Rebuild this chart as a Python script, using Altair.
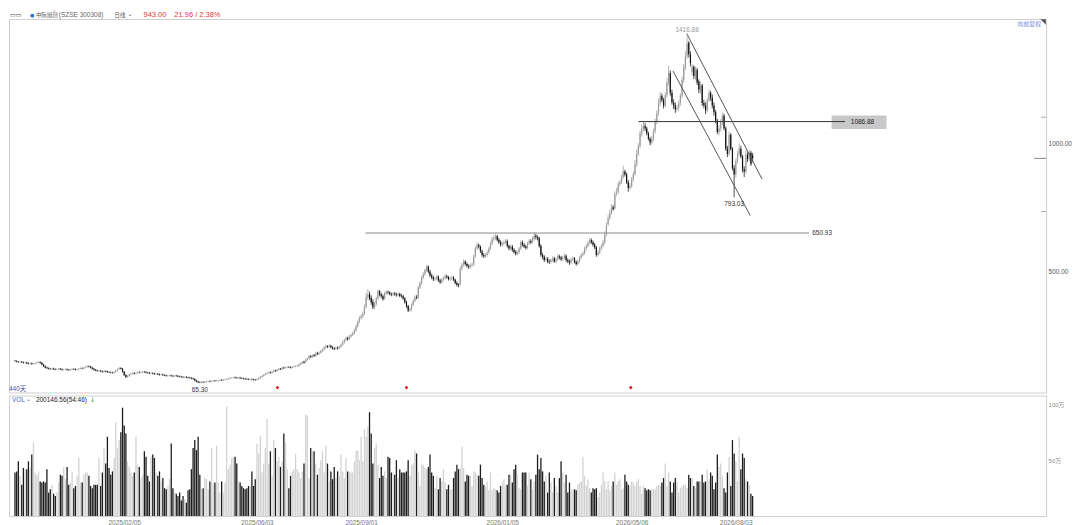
import altair as alt
import pandas as pd

# ---------------- data (daily bars, price in CNY, volume in 万) -------------
opens = [
    151,150,147,146,147,145,143,144,142,140,
    141,139,140,142,144,146,143,136,130,125,
    122,120,119,121,118,117,119,120,118,116,
    117,118,116,115,117,119,118,116,117,120,
    122,121,124,127,130,128,124,120,116,113,
    111,112,110,108,111,109,107,106,105,104,
    107,112,118,123,120,108,95,88,92,97,
    100,103,101,104,106,105,107,108,107,105,
    104,102,103,101,99,100,98,96,97,95,
    94,92,93,94,92,91,93,92,90,89,
    88,87,88,86,85,84,82,80,74,70,
    67,66,68,67,69,70,71,70,72,73,
    72,73,74,76,75,77,78,80,82,84,
    85,86,85,84,85,83,82,81,80,79,
    78,79,78,77,76,79,83,88,92,96,
    100,103,106,104,109,113,111,116,120,118,
    124,123,125,127,126,124,127,129,130,131,
    137,142,147,146,155,160,169,166,173,170,
    181,178,183,190,195,203,208,206,210,204,
    200,198,202,200,206,214,222,231,240,236,
    246,252,258,270,286,304,318,325,335,362,
    400,412,398,382,362,373,395,423,410,404,
    395,415,420,418,412,410,414,411,408,412,
    405,404,395,380,365,348,352,370,385,400,
    398,438,455,477,490,505,519,500,485,477,
    470,472,480,465,458,469,475,482,478,470,
    474,477,468,455,448,450,512,527,540,530,
    522,518,525,527,560,590,604,598,580,565,
    560,565,575,590,610,628,631,638,625,615,
    605,610,615,620,600,590,598,585,577,570,
    575,590,615,605,598,592,610,620,615,628,
    640,635,630,600,565,558,545,550,540,538,
    545,552,540,548,560,555,548,554,562,545,
    540,535,548,552,538,530,540,555,565,572,
    590,600,612,623,615,605,595,565,575,590,
    600,615,648,685,710,730,752,748,806,812,
    842,850,870,892,880,850,827,835,860,881,
    920,960,990,1040,1058,1070,1060,1040,1020,1005,
    1019,1050,1085,1120,1160,1188,1170,1150,1190,1240,
    1277,1200,1162,1150,1135,1140,1160,1188,1250,1300,
    1342,1395,1350,1280,1300,1260,1290,1245,1205,1228,
    1160,1150,1130,1170,1200,1180,1150,1123,1090,1046,
    1060,1085,1110,1060,981,960,1035,980,904,880,
    931,960,981,950,900,892,958,940,965,955,
]
highs = [
    152,151,148,148,148,146,145,145,143,142,
    142,141,143,145,147,147,144,137,131,126,
    123,121,122,122,119,120,121,121,119,118,
    119,119,117,118,120,120,119,118,121,123,
    123,125,128,131,131,129,125,121,117,114,
    113,113,111,112,112,110,108,107,106,108,
    113,119,125,124,121,109,96,93,98,101,
    104,104,105,107,107,108,109,109,108,106,
    105,104,104,102,101,101,99,98,98,96,
    95,94,95,95,93,94,94,93,91,90,
    89,89,89,87,86,85,83,81,75,71,
    68,69,69,70,71,72,72,73,74,74,
    74,75,77,77,78,79,81,83,85,86,
    87,87,86,86,86,84,83,82,81,80,
    80,80,79,78,80,84,89,93,97,101,
    104,107,107,110,114,114,117,121,121,125,
    126,126,128,128,127,128,130,132,133,138,
    143,148,149,157,162,172,171,174,176,184,
    184,186,192,198,206,212,210,214,212,206,
    202,205,205,209,217,226,235,244,243,250,
    256,263,275,292,310,324,332,342,370,415,
    430,420,405,390,380,400,428,426,415,408,
    420,426,424,421,416,418,418,415,416,416,
    410,407,398,384,368,358,374,390,405,406,
    442,460,482,496,510,525,522,505,490,482,
    477,485,483,470,473,480,488,486,481,478,
    482,480,470,460,452,518,533,546,542,534,
    526,530,533,565,596,612,608,600,584,570,
    570,580,596,615,634,640,645,642,630,620,
    616,620,626,624,604,603,602,590,582,580,
    595,620,620,610,602,615,626,624,634,650.93,
    646,640,634,605,572,562,556,555,546,550,
    558,556,552,566,564,560,560,568,565,550,
    545,552,558,555,542,545,560,570,578,595,
    606,618,630,628,620,610,598,580,596,606,
    622,655,690,720,740,762,758,812,825,850,
    858,878,912,896,885,856,845,868,890,935,
    975,1000,1050,1075,1085,1080,1065,1045,1025,1030,
    1058,1096,1130,1175,1200,1195,1178,1200,1255,1304,
    1285,1210,1172,1160,1150,1168,1195,1260,1310,1360,
    1416.88,1400,1360,1310,1305,1300,1295,1250,1240,1232,
    1170,1160,1178,1210,1205,1190,1160,1130,1095,1070,
    1095,1120,1115,1065,990,1045,1040,985,915,940,
    970,1000,990,955,910,972,965,975,970,962,
]
lows = [
    149,147,145,145,144,142,142,140,139,139,
    138,138,139,141,143,142,136,129,124,121,
    119,118,118,117,116,116,118,117,115,115,
    116,115,114,114,116,117,115,115,116,119,
    120,120,123,126,127,123,119,115,112,110,
    110,109,107,107,108,106,105,104,103,103,
    106,111,117,119,107,94,86,87,91,96,
    99,100,100,103,104,104,106,106,104,103,
    101,101,100,98,98,97,95,95,94,93,
    91,91,92,91,90,90,91,89,88,87,
    86,86,85,84,83,81,79,73,69,66,
    65.3,65.8,66,66,68,69,69,69,71,71,
    71,72,73,74,74,76,77,79,81,83,
    84,84,83,83,82,81,80,79,78,77,
    77,77,76,75,75,78,82,87,91,95,
    99,102,103,103,108,110,110,115,117,117,
    121,122,124,125,123,123,126,128,129,130,
    136,140,142,144,153,158,164,164,168,169,
    175,176,181,188,193,200,203,204,202,197,
    195,196,197,198,204,212,220,229,232,234,
    243,249,256,267,283,300,314,320,332,358,
    392,390,372,355,355,368,392,405,398,388,
    392,410,414,409,406,406,407,404,405,402,
    400,392,377,360,344,345,348,367,382,394,
    396,434,450,472,485,500,495,480,472,465,
    466,468,462,454,455,465,471,474,467,466,
    470,465,452,444,440,448,506,522,526,518,
    512,514,520,525,556,585,592,575,560,555,
    556,560,572,586,606,622,626,620,610,600,
    600,604,610,596,585,586,580,572,565,566,
    572,586,600,594,588,590,606,610,612,624,
    628,624,596,560,550,540,542,535,532,534,
    540,536,536,544,550,544,544,550,540,535,
    528,532,544,534,525,527,537,551,561,568,
    586,596,608,610,600,590,560,562,570,586,
    596,610,640,680,704,724,740,744,798,805,
    836,845,865,874,845,815,822,830,855,878,
    912,955,985,1030,1050,1052,1035,1015,996,1000,
    1012,1042,1078,1112,1150,1165,1140,1145,1182,1230,
    1190,1155,1138,1123,1128,1132,1150,1180,1240,1290,
    1335,1340,1305,1270,1255,1250,1232,1200,1198,1150,
    1140,1118,1125,1165,1170,1140,1112,1082,1040,1035,
    1050,1075,1055,975,950,955,975,898,793.03,870,
    925,952,945,890,872,885,930,935,915,930,
]
closes = [
    150,148,146,147,145,143,144,141,140,141,
    139,140,142,144,146,143,137,130,125,122,
    120,119,121,118,117,119,120,118,116,117,
    118,116,115,117,119,118,116,117,120,122,
    121,124,127,130,128,124,120,116,113,111,
    112,110,108,111,109,107,106,105,104,107,
    112,118,123,120,108,95,88,92,97,100,
    103,101,104,106,105,107,108,107,105,104,
    102,103,101,99,100,98,96,97,95,94,
    92,93,94,92,91,93,92,90,89,88,
    87,88,86,85,84,82,80,74,70,67,
    66,68,67,69,70,71,70,72,73,72,
    73,74,76,75,77,78,80,82,84,85,
    86,85,84,85,83,82,81,80,79,78,
    79,78,77,76,79,83,88,92,96,100,
    103,106,104,109,113,111,116,120,118,124,
    123,125,127,126,124,127,129,130,131,137,
    142,146,144,155,160,169,166,172,170,181,
    178,183,190,195,203,208,206,210,204,200,
    198,202,200,206,214,222,231,240,236,246,
    252,258,270,286,304,318,325,335,362,400,
    410,395,380,361,373,395,423,410,404,392,
    415,420,418,412,410,414,411,408,412,405,
    404,395,380,365,348,352,370,385,400,398,
    438,455,477,490,505,519,500,485,477,470,
    472,480,465,458,469,475,482,478,470,474,
    477,468,455,448,445,512,527,540,530,522,
    518,525,527,560,590,604,598,580,565,560,
    565,575,590,610,628,631,638,625,615,605,
    610,615,620,600,590,598,585,577,570,575,
    590,615,605,598,592,610,620,615,628,640,
    635,630,600,565,558,545,550,540,538,545,
    552,540,548,560,555,548,554,562,545,540,
    535,548,552,538,530,540,555,565,572,590,
    600,612,623,615,605,595,565,575,590,600,
    615,645,681,710,730,750,745,804,810,842,
    850,870,892,880,850,827,835,860,881,920,
    960,990,1040,1058,1070,1060,1040,1020,1005,1019,
    1050,1085,1120,1160,1188,1170,1150,1190,1240,1277,
    1200,1162,1150,1135,1140,1160,1188,1250,1300,1342,
    1392,1350,1315,1304,1265,1290,1240,1212,1230,1160,
    1150,1130,1170,1200,1180,1150,1123,1090,1046,1060,
    1085,1110,1060,981,960,1035,980,904,880,931,
    960,981,950,900,892,958,940,965,921,943,
]
volumes = [
    39,40,49,36,28,43,42,42,49,
    43,55,66,39,37,40,31,30,31,30,
    42,21,24,28,20,18,21,30,37,
    36,44,33,44,28,30,40,25,27,36,
    52,30,30,37,39,39,36,27,25,28,
    28,28,52,27,39,61,47,71,43,37,
    40,52,84,61,68,75,97,81,74,49,
    44,39,36,39,71,46,44,34,37,58,
    53,36,31,53,55,52,39,36,40,31,
    34,25,24,27,33,65,25,21,20,
    18,21,14,18,15,12,23,24,42,
    61,68,59,71,37,24,25,34,33,24,
    31,61,30,30,63,30,21,31,21,30,
    98,42,46,52,53,53,47,31,30,27,
    25,24,25,27,27,40,27,33,65,
    56,72,39,47,61,87,47,58,36,68,
    61,49,53,44,49,74,66,42,25,36,
    40,42,56,42,39,34,40,47,91,90,
    34,61,58,58,47,37,43,50,58,
    39,63,47,31,40,33,44,34,40,36,
    55,40,34,52,40,39,39,39,49,58,
    59,50,71,49,78,71,80,93,74,47,
    61,65,46,34,44,36,40,34,53,52,
    39,39,37,
    50,34,42,39,39,39,40,50,36,46,
    47,59,56,39,27,47,46,43,42,44,
    55,39,36,25,36,24,34,31,42,30,
    24,28,24,24,34,40,46,42,43,62,
    43,31,37,36,36,27,40,39,37,36,
    46,34,28,27,31,23,39,23,25,
    24,23,21,27,30,33,28,28,37,
    37,30,42,46,37,25,24,39,39,39,
    27,39,33,24,31,37,55,42,52,40,
    31,36,21,39,30,21,34,27,21,34,
    49,39,30,37,21,30,24,23,24,
    23,28,30,31,53,36,27,33,25,21,
    25,24,25,17,21,28,39,31,24,31,
    23,27,31,39,28,31,33,24,25,37,
    31,28,27,31,30,27,31,33,27,
    20,27,25,23,24,23,24,24,
    24,27,28,27,30,34,47,27,39,31,
    21,30,34,31,21,25,27,28,28,25,
    37,34,34,27,25,31,31,31,37,30,
    31,42,33,39,36,24,30,55,44,47,
    36,25,21,39,53,27,68,56,49,31,
    71,42,56,52,33,31,28,20,18,
]

tick_idx = [65, 144, 206, 290, 367, 429]
tick_labels = ["2025/02/05", "2025/06/03", "2025/09/01", "2026/01/05", "2026/05/06", "2026/08/03"]

# drawn annotations (bar index, price)
level_prices = [650.93, 1086.88]
level_start = [208.6, 371.0]
level_end = [472.6, 494.0]
channel_x1 = [399.8, 391.6]
channel_y1 = [1431.0, 1285.0]
channel_x2 = [444.6, 437.6]
channel_y2 = [862.0, 719.0]
signal_idx = [156.2, 233.0, 366.5]
price_marks = [1104.0, 735.0]
last_price = 943.0

# ---------------- build --------------------------------------------------------
n = min(len(opens), len(highs), len(lows), len(closes), len(volumes))
df = pd.DataFrame({"i": list(range(n)), "o": opens[:n], "h": highs[:n], "l": lows[:n],
                   "c": closes[:n], "v": volumes[:n]})

W, HP, HV = 1041, 375, 121
XDOM = [-0.6, 610.7]
PDOM = [26.9, 1488.5]
VDOM = [0, 107.9]
FONT = "Liberation Sans, Noto Sans CJK SC, sans-serif"
CJK = "Noto Sans CJK SC, sans-serif"
RED = "#e0382f"

xs = alt.Scale(domain=XDOM, nice=False, zero=False)
ps = alt.Scale(domain=PDOM, nice=False, zero=False)
paxis = alt.Axis(orient="right", values=[500, 1000], format=".2f", ticks=False, domain=False,
                 grid=False, title=None, labelColor="#555", labelFontSize=6.5, labelFont=FONT,
                 labelPadding=2)


def X(f="i:Q"):
    return alt.X(f, scale=xs, axis=None)


def PY(f):
    return alt.Y(f, scale=ps, axis=paxis)


def label(txt, x, y, color, size=6.5, align="left", font=FONT, **kw):
    return alt.Chart(pd.DataFrame({"t": [txt]})).mark_text(
        align=align, baseline="middle", fontSize=size, color=color, font=font, **kw
    ).encode(x=alt.value(x), y=alt.value(y), text="t:N")


updown = alt.condition("datum.c >= datum.o", alt.value("#9a9a9a"), alt.value("#111111"))
base = alt.Chart(df)

wicks = base.mark_rule(strokeWidth=0.75, strokeCap="square").encode(
    x=X(), y=PY("l:Q"), y2="h:Q", color=updown)
bodies = base.mark_bar(size=1.2).encode(x=X(), y=PY("o:Q"), y2="c:Q", color=updown)

lv = pd.DataFrame({"p": level_prices, "a": level_start, "b": level_end})
level_gray = alt.Chart(lv.iloc[[0]]).mark_rule(color="#8a8a8a", strokeWidth=1).encode(
    x=X("a:Q"), x2="b:Q", y=PY("p:Q"))
level_dark = alt.Chart(lv.iloc[[1]]).mark_rule(color="#333333", strokeWidth=1).encode(
    x=X("a:Q"), x2="b:Q", y=PY("p:Q"))

box = alt.Chart(pd.DataFrame({"a": [486.0], "b": [518.7], "lo": [1058.0], "hi": [1111.0]})).mark_rect(
    color="#c8c8c8").encode(x=X("a:Q"), x2="b:Q", y=PY("lo:Q"), y2="hi:Q")
box_line = alt.Chart(pd.DataFrame({"a": [486.0], "b": [494.0], "p": [1086.88]})).mark_rule(
    color="#333333", strokeWidth=1).encode(x=X("a:Q"), x2="b:Q", y=PY("p:Q"))

ch = pd.DataFrame({"x1": channel_x1, "y1": channel_y1, "x2": channel_x2, "y2": channel_y2})
channel = alt.Chart(ch).mark_rule(color="#555555", strokeWidth=1).encode(
    x=X("x1:Q"), x2="x2:Q", y=PY("y1:Q"), y2="y2:Q")

ann = pd.DataFrame({
    "x": [400.0, 428.0, 110.0, 474.5, 504.4],
    "y": [1416.88, 793.03, 65.3, 650.93, 1086.88],
    "t": ["1416.88", "793.03", "65.30", "650.93", "1086.88"],
})
t_peak = alt.Chart(ann.iloc[[0]]).mark_text(fontSize=6.5, font=FONT, color="#9a9a9a", dy=-7).encode(
    x=X("x:Q"), y=PY("y:Q"), text="t:N")
t_lows = alt.Chart(ann.iloc[[1, 2]]).mark_text(fontSize=6.5, font=FONT, color="#333333", dy=7).encode(
    x=X("x:Q"), y=PY("y:Q"), text="t:N")
t_lvl = alt.Chart(ann.iloc[[3]]).mark_text(fontSize=6.5, font=FONT, color="#333333", align="left").encode(
    x=X("x:Q"), y=PY("y:Q"), text="t:N")
t_box = alt.Chart(ann.iloc[[4]]).mark_text(fontSize=6.5, font=FONT, color="#222222").encode(
    x=X("x:Q"), y=PY("y:Q"), text="t:N")

signals = alt.Chart(pd.DataFrame({"x": signal_idx})).mark_point(
    shape="diamond", filled=True, size=14, color="#e01b1b", opacity=1).encode(
    x=X("x:Q"), y=alt.value(370))

pm = alt.Chart(pd.DataFrame({"p": price_marks})).mark_rule(color="#aaaaaa").encode(
    x=alt.value(W - 5), x2=alt.value(W), y=PY("p:Q"))
pm_last = alt.Chart(pd.DataFrame({"p": [last_price]})).mark_rule(color="#888888").encode(
    x=alt.value(W - 12), x2=alt.value(W), y=PY("p:Q"))

corner = alt.Chart(pd.DataFrame({"t": [0]})).mark_point(
    shape="M -1 -1 L 1 -1 L 1 1 Z", filled=True, size=30, color="#555555", opacity=1).encode(
    x=alt.value(W - 3), y=alt.value(3))

header = [
    label("▭▭", 1, -4, "#444444", size=6, font="DejaVu Sans"),
    label("●", 21, -4, "#2f6fd0", size=5, font="DejaVu Sans"),
    label("中际旭创", 27, -4, "#555555", size=5.5, font=CJK),
    label("ᴾ", 45, -6, "#d04a4a", size=4.5, font="DejaVu Sans"),
    label("(SZSE 300308)", 50, -4, "#666666", size=6.5),
    label("日线", 106, -4, "#555555", size=5.5, font=CJK),
    label("⌄", 119, -5, "#555555", size=6, font="DejaVu Sans"),
    label("943.00", 135, -4, RED, size=7.5),
    label("21.96 / 2.38%", 166, -4, RED, size=7.5),
    label("向前复权", W - 5, 5, "#7b8fe0", size=6, align="right", font=CJK),
    label("440天", 0, 371, "#4b4bb0", size=6.5),
]

price = alt.layer(
    wicks, bodies, level_gray, level_dark, box, box_line, channel,
    t_peak, t_lows, t_lvl, t_box, signals, pm, pm_last, corner, *header
).properties(width=W, height=HP)

# ---------------- volume panel ----------------
expr = "''"
for idx, lab in reversed(list(zip(tick_idx, tick_labels))):
    expr = f"datum.value == {idx} ? '{lab}' : {expr}"

vx = alt.X("i:Q", scale=xs, axis=alt.Axis(
    orient="bottom", values=tick_idx, labelExpr=expr, domain=False, ticks=False, grid=False,
    title=None, labelColor="#777777", labelFontSize=6.5, labelFont=FONT, labelPadding=3,
    labelOverlap=False, labelFlush=False))
vy = alt.Y("v:Q", scale=alt.Scale(domain=VDOM, nice=False, zero=True), axis=alt.Axis(
    orient="right", values=[50, 100], labelExpr="datum.value + '万'", ticks=False, domain=False,
    grid=False, title=None, labelColor="#888888", labelFontSize=6, labelFont=FONT, labelPadding=2))

vbars = base.mark_bar(size=1.3).encode(
    x=vx, y=vy,
    color=alt.condition("datum.c >= datum.o", alt.value("#d2d2d2"), alt.value("#1c1c1c")))

vol_header = [
    label("VOL", 3, 5, "#4b6bd0", size=6.5),
    label("⌄", 17, 4, "#4b6bd0", size=6, font="DejaVu Sans"),
    label("200146.56(54:46)", 27, 5, "#222222", size=6.5),
    label("↓", 81, 5, "#2a9d2a", size=6.5, font="DejaVu Sans"),
]

volume = alt.layer(vbars, *vol_header).properties(width=W, height=HV)

chart = alt.vconcat(price, volume, spacing=0).properties(
    padding={"left": 0, "top": 0, "right": 0, "bottom": 0}, background="white"
).configure_view(stroke="#cfcfcf", strokeWidth=1).configure_axis(labelFont=FONT)

chart.save("out.html", embed_options={"renderer": "svg", "actions": False})
